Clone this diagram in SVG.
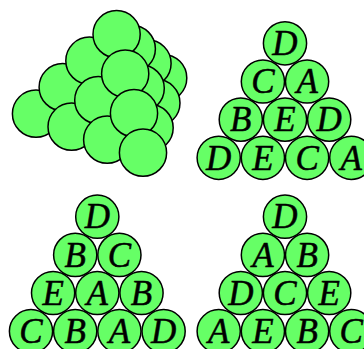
<svg xmlns="http://www.w3.org/2000/svg" width="364" height="349" viewBox="0 0 364 349">
<style>
circle{fill:#66ff66;stroke:#000;stroke-width:1.5}
text{font-family:"Liberation Serif","Times New Roman",serif;font-style:italic;font-size:35px;text-anchor:middle;fill:#000;stroke:#000;stroke-width:.5}
</style>
<rect width="364" height="349" fill="#fff"/>
<g id="connectors"/>
<g id="pile">
<circle id="p1" cx="163.2" cy="78" r="23.6"/>
<circle id="p2" cx="120.8" cy="89.9" r="23.6"/>
<circle id="p3" cx="147.5" cy="63.4" r="23.6"/>
<circle id="p4" cx="156.4" cy="102.9" r="23.6"/>
<circle id="p5" cx="78.4" cy="101.8" r="23.6"/>
<circle id="p6" cx="105.1" cy="75.3" r="23.6"/>
<circle id="p7" cx="131.8" cy="48.8" r="23.6"/>
<circle id="p8" cx="114" cy="114.8" r="23.6"/>
<circle id="p9" cx="140.7" cy="88.3" r="23.6"/>
<circle id="p10" cx="149.6" cy="127.8" r="23.6"/>
<circle id="p11" cx="36" cy="113.7" r="23.6"/>
<circle id="p12" cx="62.7" cy="87.2" r="23.6"/>
<circle id="p13" cx="89.4" cy="60.7" r="23.6"/>
<circle id="p14" cx="116.6" cy="34.2" r="23.6"/>
<circle id="p15" cx="71.6" cy="126.7" r="23.6"/>
<circle id="p16" cx="98.3" cy="100.2" r="23.6"/>
<circle id="p17" cx="125.2" cy="73.7" r="23.6"/>
<circle id="p18" cx="107.2" cy="139.7" r="23.6"/>
<circle id="p19" cx="134" cy="113.2" r="23.6"/>
<circle id="p20" cx="143" cy="152.7" r="23.6"/>
</g>
<g id="tr">
<g id="tr1"><circle cx="285" cy="43.3" r="21.6"/><text x="285" y="55">D</text></g>
<g id="tr2"><circle cx="262.9" cy="81.5" r="21.6"/><text x="262.9" y="93.2">C</text></g>
<g id="tr3"><circle cx="307.1" cy="81.5" r="21.6"/><text x="307.1" y="93.2">A</text></g>
<g id="tr4"><circle cx="240.8" cy="119.6" r="21.6"/><text x="240.8" y="131.3">B</text></g>
<g id="tr5"><circle cx="285" cy="119.6" r="21.6"/><text x="285" y="131.3">E</text></g>
<g id="tr6"><circle cx="329.2" cy="119.6" r="21.6"/><text x="329.2" y="131.3">D</text></g>
<g id="tr7"><circle cx="218.7" cy="157.8" r="21.6"/><text x="218.7" y="169.5">D</text></g>
<g id="tr8"><circle cx="262.9" cy="157.8" r="21.6"/><text x="262.9" y="169.5">E</text></g>
<g id="tr9"><circle cx="307.1" cy="157.8" r="21.6"/><text x="307.1" y="169.5">C</text></g>
<g id="tr10"><circle cx="351.3" cy="157.8" r="21.6"/><text x="351.3" y="169.5">A</text></g>
</g>
<g id="bl">
<g id="bl1"><circle cx="97.3" cy="216.7" r="21.6"/><text x="97.3" y="228.4">D</text></g>
<g id="bl2"><circle cx="75.2" cy="254.9" r="21.6"/><text x="75.2" y="266.6">B</text></g>
<g id="bl3"><circle cx="119.4" cy="254.9" r="21.6"/><text x="119.4" y="266.6">C</text></g>
<g id="bl4"><circle cx="53.1" cy="293" r="21.6"/><text x="53.1" y="304.7">E</text></g>
<g id="bl5"><circle cx="97.3" cy="293" r="21.6"/><text x="97.3" y="304.7">A</text></g>
<g id="bl6"><circle cx="141.5" cy="293" r="21.6"/><text x="141.5" y="304.7">B</text></g>
<g id="bl7"><circle cx="31" cy="331.2" r="21.6"/><text x="31" y="342.9">C</text></g>
<g id="bl8"><circle cx="75.2" cy="331.2" r="21.6"/><text x="75.2" y="342.9">B</text></g>
<g id="bl9"><circle cx="119.4" cy="331.2" r="21.6"/><text x="119.4" y="342.9">A</text></g>
<g id="bl10"><circle cx="163.6" cy="331.2" r="21.6"/><text x="163.6" y="342.9">D</text></g>
</g>
<g id="br">
<g id="br1"><circle cx="285" cy="216.7" r="21.6"/><text x="285" y="228.4">D</text></g>
<g id="br2"><circle cx="262.9" cy="254.9" r="21.6"/><text x="262.9" y="266.6">A</text></g>
<g id="br3"><circle cx="307.1" cy="254.9" r="21.6"/><text x="307.1" y="266.6">B</text></g>
<g id="br4"><circle cx="240.8" cy="293" r="21.6"/><text x="240.8" y="304.7">D</text></g>
<g id="br5"><circle cx="285" cy="293" r="21.6"/><text x="285" y="304.7">C</text></g>
<g id="br6"><circle cx="329.2" cy="293" r="21.6"/><text x="329.2" y="304.7">E</text></g>
<g id="br7"><circle cx="218.7" cy="331.2" r="21.6"/><text x="218.7" y="342.9">A</text></g>
<g id="br8"><circle cx="262.9" cy="331.2" r="21.6"/><text x="262.9" y="342.9">E</text></g>
<g id="br9"><circle cx="307.1" cy="331.2" r="21.6"/><text x="307.1" y="342.9">B</text></g>
<g id="br10"><circle cx="351.3" cy="331.2" r="21.6"/><text x="351.3" y="342.9">C</text></g>
</g>
</svg>
